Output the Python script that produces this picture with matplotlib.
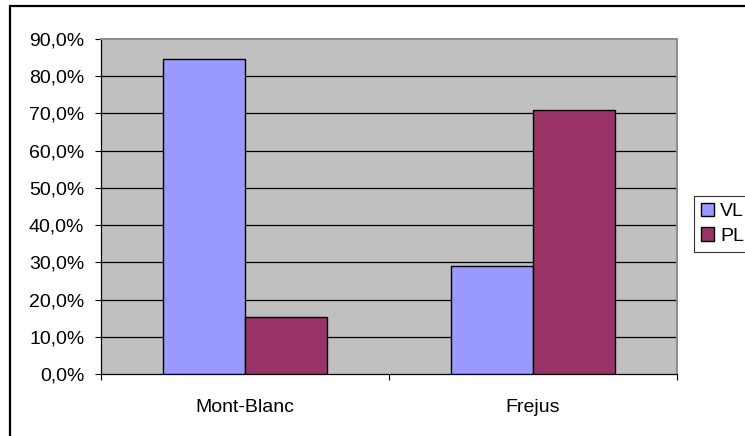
import matplotlib
matplotlib.use("Agg")
import matplotlib.pyplot as plt
from matplotlib.ticker import FuncFormatter, FixedLocator
from matplotlib.patches import Rectangle

categories = ["Mont-Blanc", "Frejus"]
series_names = ["VL", "PL"]
vl_values = [84.7, 29.1]
pl_values = [15.3, 70.9]
y_ticks = [0, 10, 20, 30, 40, 50, 60, 70, 80, 90]

plt.rcParams['font.family'] = ['Liberation Sans', 'DejaVu Sans']
FS = 14

fig = plt.figure(figsize=(7.45, 4.36), dpi=100)
fig.patch.set_facecolor('white')

# outer chart frame (cropped at right and bottom)
frame = Rectangle((9.5 / 745, -0.1), 1.2, 1 - 6.5 / 436 + 0.1, transform=fig.transFigure,
                  fill=False, edgecolor='black', linewidth=1.6)
fig.patches.append(frame)

ax = fig.add_axes([101 / 745, 1 - 374 / 436, 576 / 745, 335 / 436])
ax.set_facecolor('#C0C0C0')

x = list(range(len(categories)))
w = 1 / 3.5
ax.bar([i - w / 2 for i in x], vl_values, width=w, color='#9999FF', edgecolor='black',
       linewidth=1.0, label=series_names[0], zorder=3)
ax.bar([i + w / 2 for i in x], pl_values, width=w, color='#993366', edgecolor='black',
       linewidth=1.0, label=series_names[1], zorder=3)

ax.set_xlim(-0.5, len(categories) - 0.5)
ax.set_ylim(0, 90)
ax.set_yticks(y_ticks)
ax.yaxis.set_major_formatter(FuncFormatter(lambda v, p: f"{v:.1f}".replace('.', ',') + "%"))
for yv in y_ticks[1:-1]:
    ax.axhline(yv, color='black', linewidth=0.9, zorder=2)

ax.xaxis.set_major_locator(FixedLocator([i - 0.5 for i in range(len(categories) + 1)]))
ax.xaxis.set_minor_locator(FixedLocator(x))
ax.set_xticklabels([])
ax.set_xticklabels(categories, minor=True)
ax.tick_params(axis='x', which='major', direction='out', length=4, width=0.8, color='black')
ax.tick_params(axis='x', which='minor', length=0, pad=18, labelsize=FS)
ax.tick_params(axis='y', direction='out', length=4, width=0.8, pad=8, labelsize=FS, color='black')

for s in ['left', 'bottom']:
    ax.spines[s].set_color('black')
    ax.spines[s].set_linewidth(0.9)
for s in ['top', 'right']:
    ax.spines[s].set_color('#8C8C8C')
    ax.spines[s].set_linewidth(1.4)

leg = ax.legend(loc='upper left', bbox_to_anchor=(694 / 745, 1 - 196 / 436),
                bbox_transform=fig.transFigure, borderaxespad=0, frameon=True,
                fancybox=False, edgecolor='black', fontsize=FS, handlelength=0.7,
                handleheight=0.7, handletextpad=0.3, labelspacing=0.35, borderpad=0.35)
leg.get_frame().set_linewidth(0.8)

fig.savefig("out.png", dpi=100, facecolor='white')
